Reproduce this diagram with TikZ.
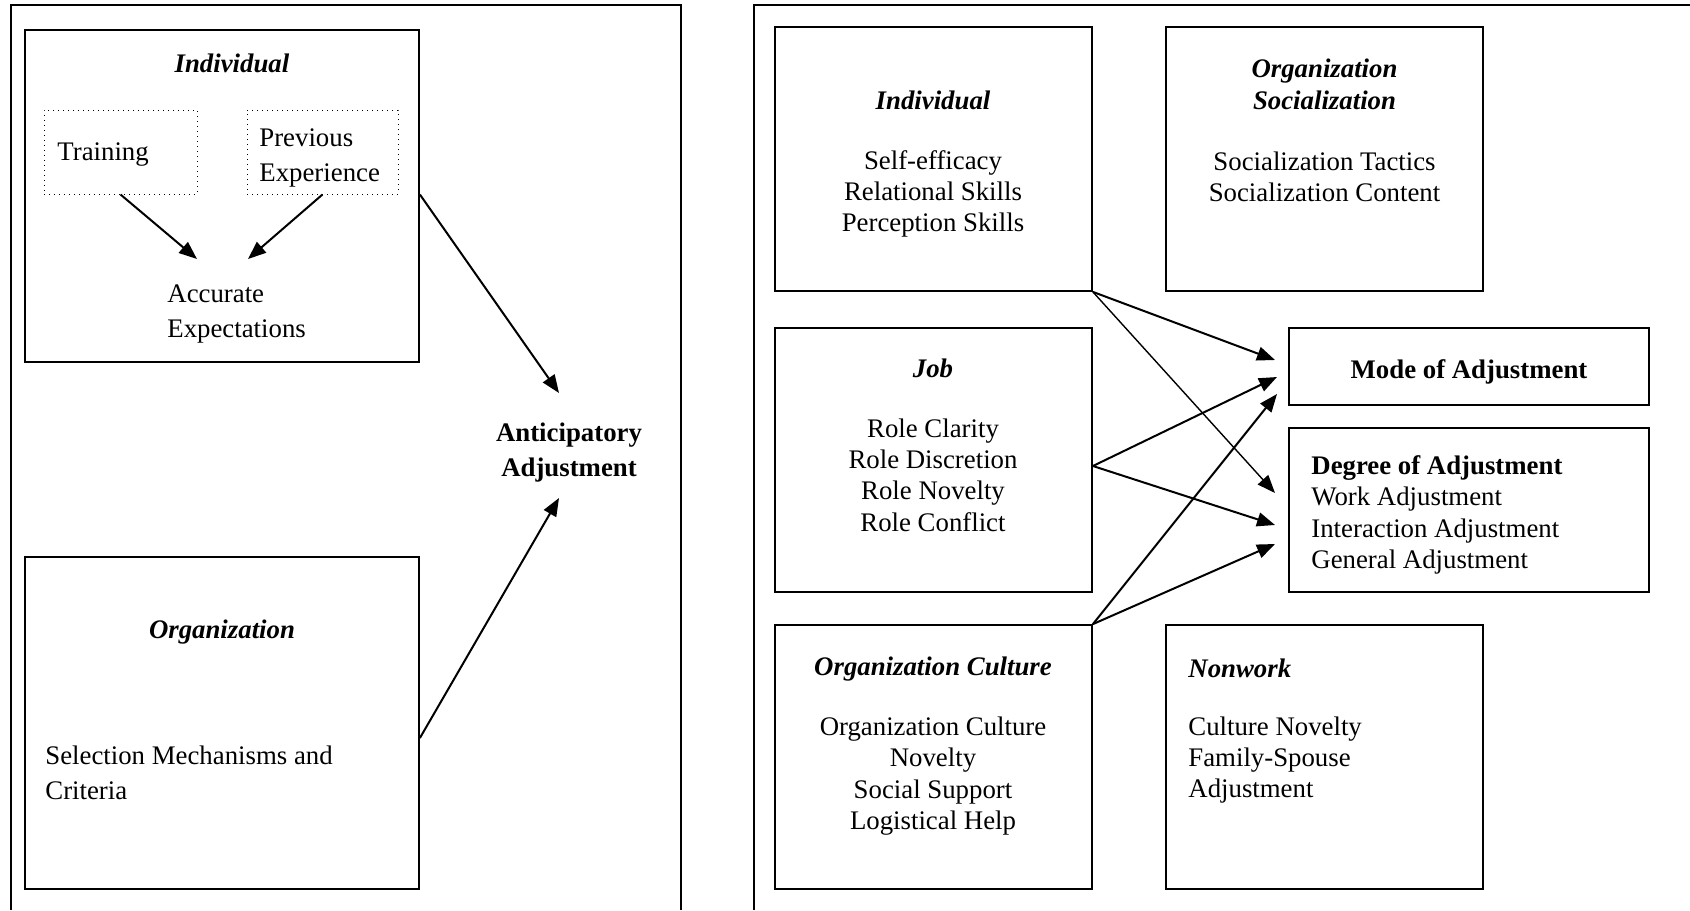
\documentclass[tikz,border=0pt]{standalone}
\usepackage{fontspec}
\setmainfont{Liberation Serif}
\usetikzlibrary{arrows.meta,positioning,fit}

\begin{document}
\begin{tikzpicture}[x=0.5pt,y=-0.5pt,
    bx/.style={draw, line width=0.9pt, inner sep=0pt},
    dbx/.style={draw, dotted, line width=0.5pt, inner sep=0pt},
    tx/.style={inner sep=0pt, align=center, font=\fontsize{13.4}{15.7}\selectfont},
    txl/.style={inner sep=0pt, align=left, anchor=west, font=\fontsize{13.4}{17.5}\selectfont},
    hd/.style={tx, font=\fontsize{13.4}{15.7}\selectfont\bfseries\itshape},
    ar/.style={-{Triangle[length=9pt,width=7pt]}, line width=1pt}
  ]
    \useasboundingbox (0,0) rectangle (1690,910);
    % outer frames
    \draw[line width=0.9pt] (11,910) |- (681,5) -- (681,910);
    \draw[line width=0.9pt] (1690,5) -| (754,910);

    % left panel
    \node[bx, fit={(25,30) (419,362)}] (indL) {};
    \node[hd] (indLT) at (232,63) {Individual};
    \node[dbx, fit={(44,110) (197,194)}] (train) {};
    \node[dbx, fit={(247,110) (398,194)}] (prev) {};
    \node[txl] (trainT) at (57,155) {Training};
    \node[txl] (prevT) at (259,158) {Previous\\Experience};
    \node[txl] (acc) at (167,314) {Accurate\\Expectations};
    \coordinate (accL) at (197,259);
    \coordinate (accR) at (248,259);
    \node[bx, fit={(25,557) (419,889)}] (org) {};
    \node[hd] (orgT) at (222,632) {Organization};
    \node[txl] (sel) at (45,773) {Selection Mechanisms and\\Criteria};
    \node[tx, font=\fontsize{13.4}{17.5}\selectfont\bfseries] (ant) at (569,453)
      {Anticipatory\\Adjustment};
    \coordinate (antT) at (559,393);
    \coordinate (antB) at (559,498);
    \draw[ar] (train.south) -- (accL);
    \draw[ar] (prev.south) -- (accR);
    \draw[ar] (indL.east |- prev.south) -- (antT);
    \draw[ar] (org.east |- 0,738) -- (antB);

    % right panel
    \node[bx, fit={(775,27) (1092,291)}] (indR) {};
    \node[hd] at (933,100) {Individual};
    \node[tx] at (933,194) {Self-efficacy\\Relational Skills\\Perception Skills};
    \node[bx, fit={(1166,27) (1483,291)}] (soc) {};
    \node[hd] at (1324.5,84.5) {Organization\\Socialization};
    \node[tx] at (1324.5,177) {Socialization Tactics\\Socialization Content};
    \node[bx, fit={(775,328) (1092,592)}] (job) {};
    \node[hd] at (933,368) {Job};
    \node[tx] at (933,475) {Role Clarity\\Role Discretion\\Role Novelty\\Role Conflict};
    \node[bx, fit={(775,625) (1092,889)}] (cult) {};
    \node[hd] at (933,669) {Organization Culture};
    \node[tx] at (933,776) {Organization Culture\\Novelty\\Social Support\\Logistical Help};
    \node[bx, fit={(1166,625) (1483,889)}] (nonw) {};
    \node[hd, anchor=west] at (1188,668) {Nonwork};
    \node[tx, align=left, anchor=west] at (1188,760) {Culture Novelty\\Family-Spouse\\Adjustment};
    \node[bx, fit={(1289,328) (1649,405)}] (mode) {};
    \node[tx, font=\fontsize{13.4}{15.7}\selectfont\bfseries] at ([yshift=-2.5pt]mode.center) {Mode of Adjustment};
    \node[bx, fit={(1289,428) (1649,592)}] (deg) {};
    \node[tx, align=left, anchor=west] at (1311,515)
      {\textbf{Degree of Adjustment}\\Work Adjustment\\Interaction Adjustment\\General Adjustment};

    \coordinate (m1) at (1275,360);
    \coordinate (m2) at (1277,377);
    \coordinate (m3) at (1277,394);
    \coordinate (d1) at (1275,493);
    \coordinate (d2) at (1275,525);
    \coordinate (d3) at (1275,544);
    \draw[ar] (indR.south east) -- (m1);
    \draw[ar, line width=0.7pt] (indR.south east) -- (d1);
    \draw[ar] ([yshift=-3pt]job.east) -- (m2);
    \draw[ar] ([yshift=-3pt]job.east) -- (d2);
    \draw[ar] (cult.north east) -- (m3);
    \draw[ar] (cult.north east) -- (d3);
\end{tikzpicture}
\end{document}
